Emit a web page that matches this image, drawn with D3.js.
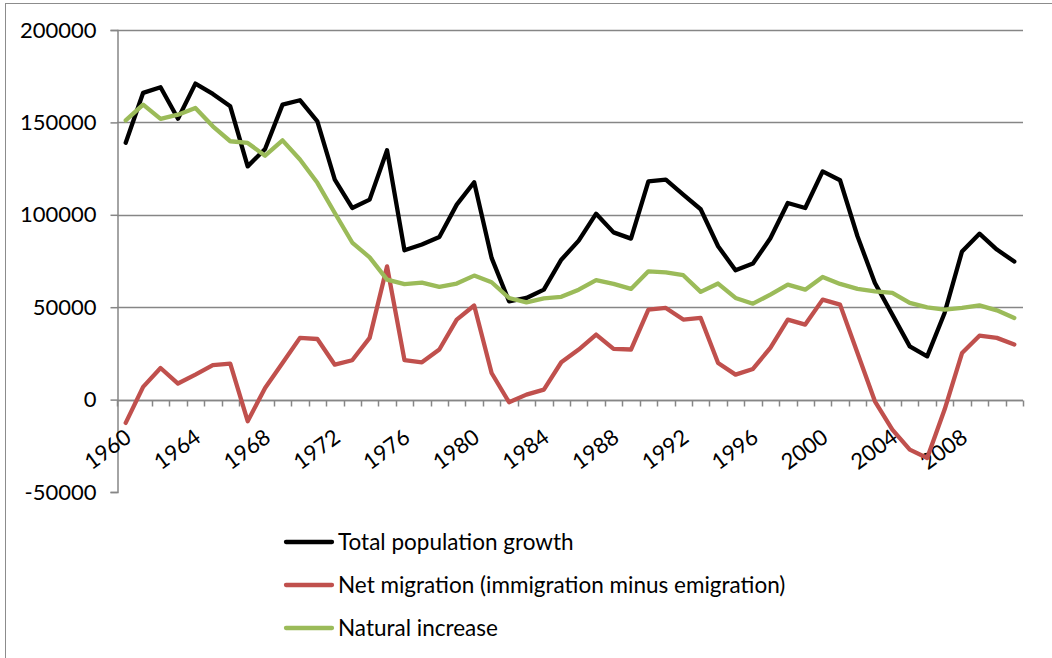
<!DOCTYPE html>
<html>
<head>
<meta charset="utf-8">
<script src="https://cdn.jsdelivr.net/npm/d3@7"></script>
<style>
  html, body { margin: 0; padding: 0; background: #fff; }
  svg { display: block; }
  text { font-family: Lato, "Open Sans", sans-serif; fill: #000; }
</style>
</head>
<body>
<svg id="chart" width="1052" height="658"></svg>
<script>
const years = d3.range(1960, 2012);
const yTicks = [-50000, 0, 50000, 100000, 150000, 200000];
const seriesNames = ["Total population growth", "Net migration (immigration minus emigration)", "Natural increase"];
const seriesColors = ["#000000", "#C0504D", "#9BBB59"];

const totalGrowth = [139000, 166000, 169000, 152000, 171000, 165400, 158700, 126200, 135600, 159600,
  162000, 150600, 119000, 103700, 108200, 134900, 80800, 83900, 88000, 105500,
  117600, 76700, 53200, 55000, 59500, 75700, 86000, 100600, 90500, 87100,
  118100, 119000, 110900, 103000, 83000, 70000, 73600, 87300, 106400, 103700,
  123500, 118700, 88400, 63100, 46000, 28800, 23400, 46900, 80200, 89800,
  81200, 74700];
const netMigration = [-12600, 6900, 17100, 8700, 13500, 18600, 19500, -11700, 6300, 19800,
  33400, 32800, 18900, 21300, 33400, 72100, 21400, 20200, 27100, 43300,
  50900, 14400, -1400, 2700, 5400, 20200, 27100, 35200, 27400, 27100,
  48700, 49600, 43300, 44200, 19800, 13500, 16600, 28000, 43300, 40600,
  54100, 51400, 25200, -900, -16200, -27100, -31600, -5400, 25200, 34600,
  33400, 29800];
const naturalIncrease = [151100, 159600, 151900, 154200, 157800, 147900, 139800, 138900, 132000, 140300,
  129900, 117300, 101000, 85000, 77000, 64900, 62500, 63300, 61000, 62800,
  67100, 63500, 55000, 52600, 54800, 55600, 59500, 64600, 62600, 59900,
  69400, 68900, 67300, 58300, 62800, 55000, 51900, 56800, 62200, 59500,
  66400, 62600, 59900, 58600, 57700, 52300, 49900, 48700, 49600, 51000,
  48300, 44200];

const svg = d3.select("#chart");

// outer frame (left & top edges visible)
svg.append("rect").attr("x", 5.5).attr("y", 3.5).attr("width", 1100).attr("height", 700)
  .attr("fill", "none").attr("stroke", "#8c8c8c").attr("stroke-width", 1);

const pLeft = 117, pRight = 1023, pTop = 30, pBottom = 492;
const x = d3.scaleBand().domain(years).range([pLeft, pRight]);
const y = d3.scaleLinear().domain([-50000, 200000]).range([pBottom, pTop]);

// gridlines
svg.append("g").selectAll("line").data(yTicks.filter(d => d !== -50000)).join("line")
  .attr("x1", pLeft).attr("x2", pRight)
  .attr("y1", d => Math.round(y(d)) + 0.5).attr("y2", d => Math.round(y(d)) + 0.5)
  .attr("stroke", "#868686").attr("stroke-width", 1.5);

// y axis
const yAxis = d3.axisLeft(y).tickValues(yTicks).tickSize(7).tickPadding(14).tickFormat(d => String(d));
const gy = svg.append("g").attr("transform", `translate(${pLeft + 0.5},0)`).call(yAxis);
gy.select(".domain").attr("stroke", "#868686").attr("stroke-width", 1.5);
gy.selectAll(".tick line").attr("stroke", "#868686").attr("stroke-width", 1.5);
gy.selectAll(".tick text").attr("font-size", 22).style("font-family", "Lato, 'Open Sans', sans-serif").attr("fill", "#000");

// x axis at zero
const x0 = Math.round(y(0)) + 0.5;
const gx = svg.append("g");
gx.append("line").attr("x1", pLeft).attr("x2", pRight).attr("y1", x0).attr("y2", x0)
  .attr("stroke", "#868686").attr("stroke-width", 1.5);
const boundaries = years.map(d => x(d)).concat([pRight]);
gx.selectAll("line.tk").data(boundaries).join("line").attr("class", "tk")
  .attr("x1", d => Math.round(d) + 0.5).attr("x2", d => Math.round(d) + 0.5)
  .attr("y1", x0).attr("y2", x0 + 6)
  .attr("stroke", "#868686").attr("stroke-width", 1.5);

// x labels every 4 years
const labelYears = years.filter(d => (d - 1960) % 4 === 0);
gx.selectAll("text").data(labelYears).join("text")
  .attr("text-anchor", "end")
  .attr("font-size", 22)
  .attr("transform", d => `translate(${x(d) + x.bandwidth() / 2 + 7},${x0 + 40}) rotate(-36)`)
  .text(d => d);

// lines
const line = d3.line().x((d, i) => x(years[i]) + x.bandwidth() / 2).y(d => y(d));
const allSeries = [totalGrowth, netMigration, naturalIncrease];
[0, 1, 2].forEach(i => {
  svg.append("path").datum(allSeries[i]).attr("d", line)
    .attr("fill", "none").attr("stroke", seriesColors[i]).attr("stroke-width", 4.3)
    .attr("stroke-linejoin", "round").attr("stroke-linecap", "round");
});

// legend
const leg = svg.append("g");
seriesNames.forEach((name, i) => {
  const ly = 542 + i * 43;
  leg.append("line").attr("x1", 286).attr("x2", 332).attr("y1", ly).attr("y2", ly)
    .attr("stroke", seriesColors[i]).attr("stroke-width", 4.3).attr("stroke-linecap", "round");
  leg.append("text").attr("x", 338).attr("y", ly + 8).attr("font-size", 22.5).text(name);
});
</script>
</body>
</html>
